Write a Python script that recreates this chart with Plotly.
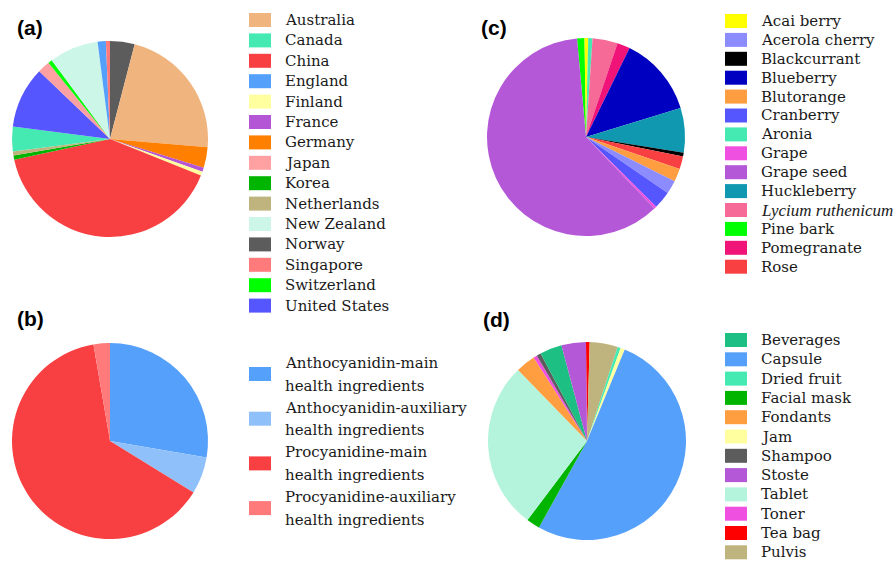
import plotly.graph_objects as go

W, H = 893, 562

# ---- (a) country of origin (number of products) ----
country_labels = ["Australia", "Canada", "China", "England", "Finland", "France",
                  "Germany", "Japan", "Korea", "Netherlands", "New Zealand", "Norway",
                  "Singapore", "Switzerland", "United States"]
country_counts = [33, 6, 60, 2, 1, 1, 5, 3, 1, 1, 12, 6, 1, 1, 15]
country_colors = ["#F0B47E", "#45EAB2", "#F84042", "#55A0FA", "#FFFFA0", "#B455D6",
                  "#FF7F00", "#FFA0A2", "#00B400", "#C0B47E", "#CCF7E8", "#5C5C5C",
                  "#FF7A7A", "#00FF00", "#5656FF"]
country_slices = ["Norway", "Australia", "Germany", "France", "Finland", "China",
                  "Korea", "Netherlands", "Canada", "United States", "Japan",
                  "Switzerland", "New Zealand", "England", "Singapore"]

# ---- (b) ingredient type ----
ingr_labels = [["Anthocyanidin-main", "health ingredients"],
               ["Anthocyanidin-auxiliary", "health ingredients"],
               ["Procyanidine-main", "health ingredients"],
               ["Procyanidine-auxiliary", "health ingredients"]]
ingr_counts = [41, 9, 94, 4]
ingr_colors = ["#55A0FA", "#90C0FA", "#F84042", "#FF7A7A"]

# ---- (c) raw material (%) ----
source_labels = ["Acai berry", "Acerola cherry", "Blackcurrant", "Blueberry",
                 "Blutorange", "Cranberry", "Aronia", "Grape", "Grape seed",
                 "Huckleberry", "<i>Lycium ruthenicum</i>", "Pine bark",
                 "Pomegranate", "Rose"]
source_share = [0.6, 2.2, 0.6, 13.0, 2.1, 2.9, 0.7, 0.4, 60.7, 7.3, 4.1, 1.2, 2.1, 2.1]
source_colors = ["#FFFF00", "#8C8CFF", "#000000", "#0000C0", "#FF9E40", "#5656FF",
                 "#45EAB2", "#F050E0", "#B458D8", "#1098B0", "#F56A96", "#00FF00",
                 "#F01478", "#F84042"]
source_slices = ["Pine bark", "Acai berry", "Aronia", "<i>Lycium ruthenicum</i>",
                 "Pomegranate", "Blueberry", "Huckleberry", "Blackcurrant", "Rose",
                 "Blutorange", "Acerola cherry", "Cranberry", "Grape", "Grape seed"]

# ---- (d) dosage form (%) ----
form_labels = ["Beverages", "Capsule", "Dried fruit", "Facial mask", "Fondants", "Jam",
               "Shampoo", "Stoste", "Tablet", "Toner", "Tea bag", "Pulvis"]
form_share = [3.6, 51.9, 0.5, 2.2, 3.2, 0.7, 0.7, 4.0, 27.5, 0.6, 0.6, 4.6]
form_colors = ["#1DBF82", "#55A0FA", "#45EAB2", "#00B400", "#FF9E40", "#FFFFA0",
               "#5C5C5C", "#B458D8", "#B4F4DC", "#F050E0", "#FF0000", "#C0B47E"]
form_slices = ["Tea bag", "Pulvis", "Dried fruit", "Jam", "Capsule", "Facial mask",
               "Tablet", "Fondants", "Toner", "Shampoo", "Beverages", "Stoste"]


def reorder(labels, values, colors, order):
    idx = [labels.index(name) for name in order]
    return ([labels[i] for i in idx], [values[i] for i in idx], [colors[i] for i in idx])


def domain(cx, cy, r):
    return dict(x=[(cx - r) / W, (cx + r) / W], y=[1 - (cy + r) / H, 1 - (cy - r) / H])


fig = go.Figure()

pies = [
    (reorder(country_labels, country_counts, country_colors, country_slices), (110, 139, 98), 0),
    (([l[0] for l in ingr_labels], ingr_counts, ingr_colors), (110, 441, 98), 0),
    (reorder(source_labels, source_share, source_colors, source_slices), (586, 137, 99), -5.2),
    (reorder(form_labels, form_share, form_colors, form_slices), (587, 441, 99), -0.6),
]
for (labels, values, colors), (cx, cy, r), rot in pies:
    fig.add_trace(go.Pie(
        labels=labels, values=values, sort=False, direction="clockwise",
        rotation=rot, domain=domain(cx, cy, r), textinfo="none",
        marker=dict(colors=colors, line=dict(width=0)),
        showlegend=False, hoverinfo="label+value+percent",
    ))

shapes, annotations = [], []
TXT = "#1a1a1a"
SERIF = "DejaVu Serif"


def swatch(x0, yc, color):
    shapes.append(dict(type="rect", xref="paper", yref="paper",
                       x0=x0 / W, x1=(x0 + 22) / W,
                       y0=1 - (yc + 7) / H, y1=1 - (yc - 7) / H,
                       fillcolor=color, line=dict(width=0)))


def label(x, y, text, family=SERIF, size=15):
    annotations.append(dict(xref="paper", yref="paper", x=x / W, y=1 - y / H,
                            xanchor="left", yanchor="middle", showarrow=False,
                            text=text, font=dict(family=family, size=size, color=TXT)))


# legend (a)
for i, (name, col) in enumerate(zip(country_labels, country_colors)):
    y = 20 + i * 20.4
    swatch(249, y, col)
    label(283, y, name)

# legend (b)
for i, (lines, col) in enumerate(zip(ingr_labels, ingr_colors)):
    y1 = 363 + i * 44.7
    swatch(249, y1 + 11, col)
    label(283, y1, lines[0])
    label(283, y1 + 22.5, lines[1])

# legend (c)
for i, (name, col) in enumerate(zip(source_labels, source_colors)):
    y = 21 + i * 18.9
    swatch(725, y, col)
    if name.startswith("<i>"):
        label(759, y, name, family="Liberation Serif", size=17)
    else:
        label(759, y, name)

# legend (d)
for i, (name, col) in enumerate(zip(form_labels, form_colors)):
    y = 340 + i * 19.3
    swatch(725, y, col)
    label(759, y, name)

# panel tags
for tag, x, y in [("(a)", 15, 27), ("(b)", 15, 318), ("(c)", 479, 27), ("(d)", 481, 319)]:
    annotations.append(dict(xref="paper", yref="paper", x=x / W, y=1 - y / H,
                            xanchor="left", yanchor="middle", showarrow=False,
                            text=f"<b>{tag}</b>",
                            font=dict(family="Liberation Sans", size=21, color="#000")))

fig.update_layout(
    width=W, height=H, margin=dict(l=0, r=0, t=0, b=0),
    paper_bgcolor="white", plot_bgcolor="white",
    shapes=shapes, annotations=annotations,
)

fig.write_html("out.html")
